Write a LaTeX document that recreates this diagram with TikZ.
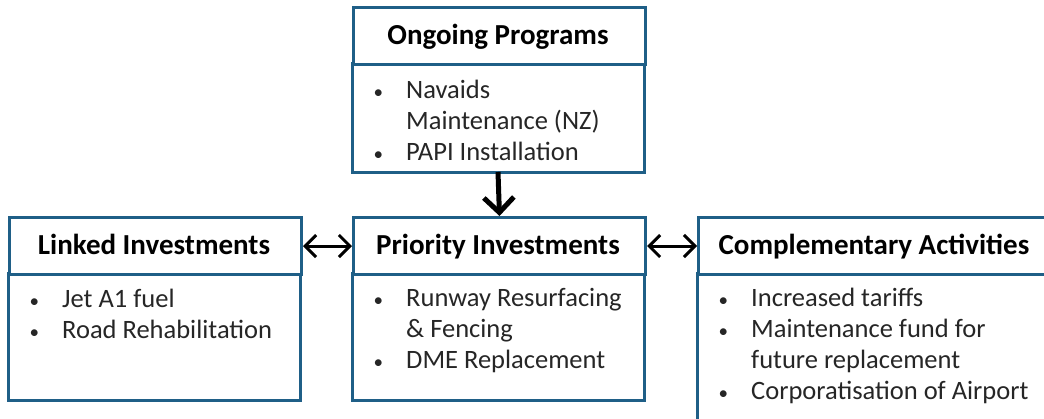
\documentclass[tikz,border=0pt]{standalone}
\usepackage{fontspec}
\setmainfont{Carlito}
\usepackage{array}
\usetikzlibrary{arrows.meta}
\definecolor{boxblue}{HTML}{1F5F87}
\definecolor{bodytext}{HTML}{262626}
\tikzset{
  band/.style={draw=boxblue, line width=3pt, fill=white, inner sep=0pt},
  titletext/.style={anchor=base, inner sep=0pt, font=\fontsize{29}{34}\selectfont\bfseries, text=black},
  bodyblock/.style={anchor=base west, inner sep=0pt, font=\fontsize{26.5}{31}\selectfont, text=bodytext},
  dbl/.style={{Straight Barb[length=11pt,width=22pt]}-{Straight Barb[length=11pt,width=22pt]}, line width=3pt, black},
  down/.style={-{Straight Barb[length=15pt,width=30pt]}, line width=5pt, black}
}
\newcommand{\bul}{\hspace*{1.5pt}\scalebox{0.72}{\textbullet}}
\newcommand{\blist}[1]{\begin{tabular}[t]{@{}>{\raggedright\arraybackslash}p{34pt}@{}l@{}}#1\end{tabular}}
\begin{document}
\begin{tikzpicture}[x=1pt,y=-1pt]
\useasboundingbox (0,0) rectangle (1044,418);
\fill[white] (0,0) rectangle (1044,418);
% top box
\draw[band] (352,63) rectangle (644,172);
\node[band, minimum width=292pt, minimum height=57pt, anchor=north west] (topT) at (352,6) {};
\coordinate (topB) at (498,172);
% left box
\draw[band] (8,273) rectangle (300,400);
\node[band, minimum width=292pt, minimum height=57pt, anchor=north west] (leftT) at (8,216) {};
% middle box
\draw[band] (352,273) rectangle (644,400);
\node[band, minimum width=292pt, minimum height=57pt, anchor=north west] (midT) at (352,216) {};
% right box
\draw[band] (697,273) rectangle (1052,440);
\node[band, minimum width=355pt, minimum height=57pt, anchor=north west] (rightT) at (697,216) {};
% titles
\node[titletext] (t1) at (498,44) {Ongoing Programs};
\node[titletext] (t2) at (154,254) {Linked Investments};
\node[titletext] (t3) at (498,254) {Priority Investments};
\node[titletext] (t4) at (874,254) {Complementary Activities};
% bodies
\node[bodyblock] (b1) at (372,98) {\blist{\bul & Navaids\\ & Maintenance (NZ)\\ \bul & PAPI Installation}};
\node[bodyblock] (b2) at (28,307) {\blist{\bul & Jet A1 fuel\\ \bul & Road Rehabilitation}};
\node[bodyblock] (b3) at (372,306) {\blist{\bul & Runway Resurfacing\\ & \& Fencing\\ \bul & DME Replacement}};
\node[bodyblock] (b4) at (717,306) {\blist{\bul & Increased tariffs\\ \bul & Maintenance fund for\\ & future replacement\\ \bul & Corporatisation of Airport}};
% connectors
\draw[down] (topB) -- (midT.north);
\draw[dbl] (leftT.east) -- (midT.west);
\draw[dbl] (midT.east) -- (rightT.west);
\end{tikzpicture}
\end{document}
